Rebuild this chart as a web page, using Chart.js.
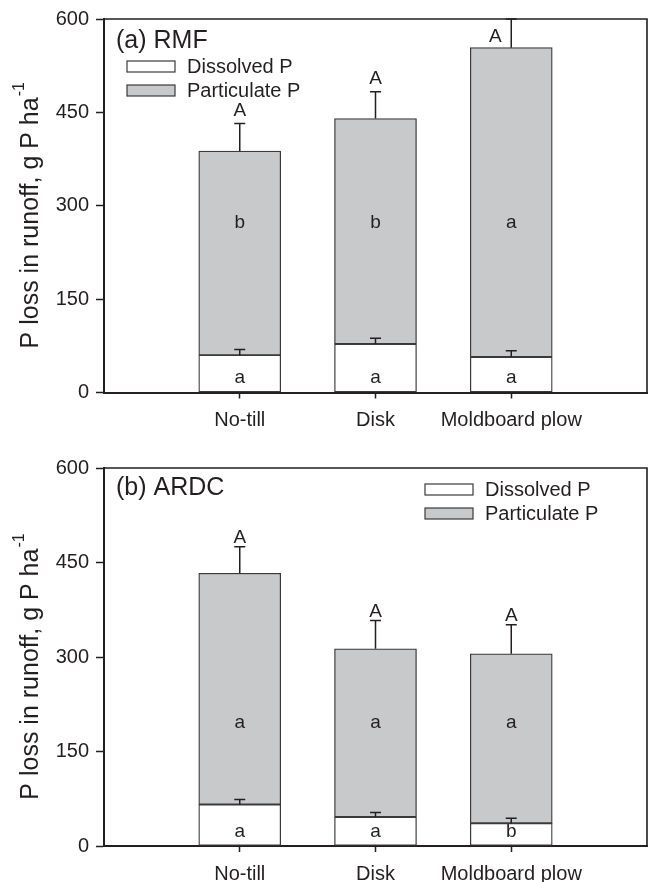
<!DOCTYPE html>
<html lang="en">
<head>
<meta charset="UTF-8">
<title>P loss in runoff</title>
<script src="https://cdn.jsdelivr.net/npm/chart.js"></script>
<style>
  body { margin: 0; background: #fff; }
  canvas { display: block; }
</style>
</head>
<body>
<canvas id="rmf" width="649" height="441"></canvas>
<canvas id="ardc" width="649" height="441"></canvas>
<script>
const tillage = ['No-till', 'Disk', 'Moldboard plow'];
const yTicks = [0, 150, 300, 450, 600];
const seriesNames = ['Dissolved P', 'Particulate P'];

// (a) RMF
const rmfDissolved = [60, 78, 57];
const rmfDissolvedSE = [9, 9, 10];
const rmfParticulate = [328, 362, 497];
const rmfTotalSE = [44, 43, 46];
const rmfDissolvedLetters = ['a', 'a', 'a'];
const rmfParticulateLetters = ['b', 'b', 'a'];
const rmfTotalLetters = ['A', 'A', 'A'];

// (b) ARDC
const ardcDissolved = [66, 46, 36];
const ardcDissolvedSE = [8, 7, 8];
const ardcParticulate = [367, 267, 269];
const ardcTotalSE = [42, 45, 46];
const ardcDissolvedLetters = ['a', 'a', 'b'];
const ardcParticulateLetters = ['a', 'a', 'a'];
const ardcTotalLetters = ['A', 'A', 'A'];

const INK = '#231f20';
const FONT = '"Liberation Sans", Arial, Helvetica, sans-serif';

// pad the category axis with an empty slot on each side
const pad = arr => [null, ...arr, null];

const panelPlugin = {
  id: 'panel',
  afterDatasetsDraw(chart, args, opts) {
    const ctx = chart.ctx;
    const y = chart.scales.y;
    const area = chart.chartArea;
    const d0 = chart.getDatasetMeta(0).data;
    ctx.save();
    ctx.strokeStyle = INK;
    ctx.lineWidth = 1.5;
    // error bars: dissolved on top of white segment, total on top of grey one
    for (let i = 0; i < tillage.length; i++) {
      const x = d0[i + 1].x;
      const diss = opts.dissolved[i];
      const tot = diss + opts.particulate[i];
      [[diss, opts.dissolvedSE[i]], [tot, opts.totalSE[i]]].forEach(([v, se]) => {
        const y0 = y.getPixelForValue(v);
        const y1 = Math.max(y.getPixelForValue(v + se), area.top);
        ctx.beginPath();
        ctx.moveTo(x, y0);
        ctx.lineTo(x, y1);
        ctx.moveTo(x - 5.5, y1);
        ctx.lineTo(x + 5.5, y1);
        ctx.stroke();
      });
      // letters
      ctx.fillStyle = INK;
      ctx.font = '19px ' + FONT;
      ctx.textAlign = 'center';
      ctx.textBaseline = 'middle';
      ctx.fillText(opts.dissolvedLetters[i], x, y.getPixelForValue(23));
      ctx.fillText(opts.particulateLetters[i], x, y.getPixelForValue(opts.midLetterAt));
      let ly = y.getPixelForValue(tot + opts.totalSE[i]) - opts.capGap;
      let lx = x;
      if (ly < area.top + 18) { ly = area.top + 18; lx = x - 16; }
      ctx.fillText(opts.totalLetters[i], lx, ly);
    }
    ctx.restore();
  },
  afterDraw(chart, args, opts) {
    const ctx = chart.ctx;
    const area = chart.chartArea;
    ctx.save();
    // closing frame (top and right)
    ctx.strokeStyle = INK;
    ctx.lineWidth = 1.6;
    ctx.beginPath();
    ctx.moveTo(area.left, area.top);
    ctx.lineTo(area.right, area.top);
    ctx.lineTo(area.right, area.bottom);
    ctx.stroke();

    // panel title
    ctx.fillStyle = INK;
    ctx.font = '25px ' + FONT;
    ctx.textAlign = 'left';
    ctx.textBaseline = 'middle';
    ctx.fillText(opts.title, area.left + 12, area.top + opts.titleDy);

    // legend
    ctx.font = '20px ' + FONT;
    chart.data.datasets.forEach((ds, k) => {
      const bx = area.left + opts.legendDx;
      const by = area.top + opts.legendDy + k * 24;
      ctx.fillStyle = ds.backgroundColor;
      ctx.fillRect(bx, by, 48, 11);
      ctx.strokeStyle = '#3a3a3a';
      ctx.lineWidth = 1.2;
      ctx.strokeRect(bx, by, 48, 11);
      ctx.fillStyle = INK;
      ctx.fillText(ds.label, bx + 60, by + 6);
    });

    // y axis title with superscript
    const main = 'P loss in runoff, g P ha';
    const sup = '-1';
    ctx.font = '25px ' + FONT;
    const wMain = ctx.measureText(main).width;
    ctx.font = '16px ' + FONT;
    const wSup = ctx.measureText(sup).width;
    ctx.translate(31, (area.top + area.bottom) / 2 + 10);
    ctx.rotate(-Math.PI / 2);
    const start = -(wMain + wSup) / 2;
    ctx.font = '25px ' + FONT;
    ctx.fillText(main, start, 0);
    ctx.font = '16px ' + FONT;
    ctx.fillText(sup, start + wMain + 1, -11);
    ctx.restore();
  }
};

function makePanel(id, d, p, opts) {
  return new Chart(document.getElementById(id), {
    type: 'bar',
    data: {
      labels: ['', ...tillage, ''],
      datasets: [
        { label: seriesNames[0], data: pad(d), backgroundColor: '#ffffff' },
        { label: seriesNames[1], data: pad(p), backgroundColor: '#c8c9cb' }
      ]
    },
    options: {
      responsive: false,
      animation: false,
      layout: { padding: { top: opts.top, right: 2, left: 0, bottom: 0 } },
      datasets: {
        bar: { barThickness: 82, borderColor: '#3a3a3a', borderWidth: 1.3, borderSkipped: false }
      },
      scales: {
        x: {
          stacked: true,
          offset: false,
          grid: {
            offset: false,
            drawOnChartArea: false,
            tickLength: 6,
            tickWidth: 1.5,
            tickColor: c => (c.index === 0 || c.index === 4) ? 'rgba(0,0,0,0)' : INK
          },
          border: { color: INK, width: 2 },
          ticks: { color: INK, font: { family: FONT, size: 20 }, padding: 10, maxRotation: 0, autoSkip: false },
          afterFit: s => { s.height = opts.xHeight; s.paddingRight = 0; s.paddingLeft = 0; }
        },
        y: {
          stacked: true,
          min: 0,
          max: 600,
          afterBuildTicks: s => { s.ticks = yTicks.map(v => ({ value: v })); },
          grid: { drawOnChartArea: false, tickLength: 8, tickWidth: 1.5, tickColor: INK },
          border: { color: INK, width: 2 },
          ticks: { color: INK, font: { family: FONT, size: 20 }, padding: 7 },
          afterFit: s => { s.width = 104; }
        }
      },
      plugins: {
        legend: { display: false },
        tooltip: { enabled: false },
        panel: opts.panel
      }
    },
    plugins: [panelPlugin]
  });
}

makePanel('rmf', rmfDissolved, rmfParticulate, {
  top: 15, xHeight: 48.5,
  panel: {
    title: '(a) RMF', titleDy: 22, legendDx: 23, legendDy: 42,
    dissolved: rmfDissolved, particulate: rmfParticulate,
    dissolvedSE: rmfDissolvedSE, totalSE: rmfTotalSE,
    dissolvedLetters: rmfDissolvedLetters, particulateLetters: rmfParticulateLetters,
    totalLetters: rmfTotalLetters, midLetterAt: 272, capGap: 13
  }
});

makePanel('ardc', ardcDissolved, ardcParticulate, {
  top: 27, xHeight: 36,
  panel: {
    title: '(b) ARDC', titleDy: 20, legendDx: 321, legendDy: 16,
    dissolved: ardcDissolved, particulate: ardcParticulate,
    dissolvedSE: ardcDissolvedSE, totalSE: ardcTotalSE,
    dissolvedLetters: ardcDissolvedLetters, particulateLetters: ardcParticulateLetters,
    totalLetters: ardcTotalLetters, midLetterAt: 195, capGap: 9
  }
});
</script>
</body>
</html>
